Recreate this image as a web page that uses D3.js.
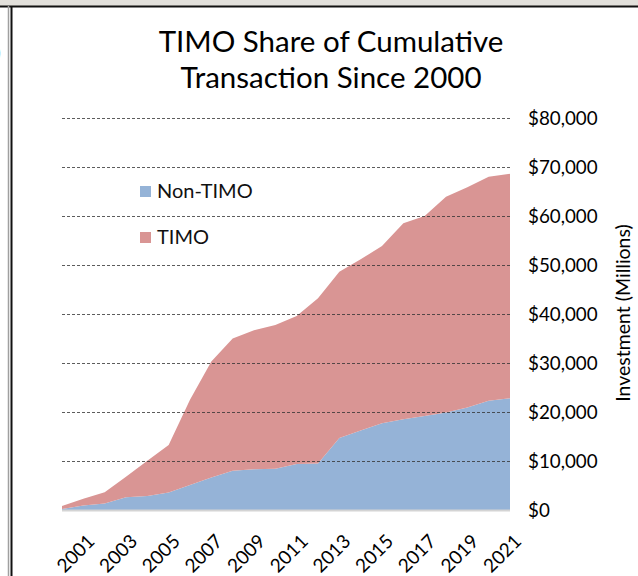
<!DOCTYPE html>
<html>
<head>
<meta charset="utf-8">
<script src="https://cdn.jsdelivr.net/npm/d3@7"></script>
<style>
  body { margin: 0; background: #fff; }
  svg { display: block; font-family: Lato, "Open Sans", sans-serif; }
</style>
</head>
<body>
<div id="chart"></div>
<script>
// Data
let years = d3.range(2000, 2022);
let nonTimo = [200, 900, 1350, 2600, 2850, 3550, 5100, 6650, 8000, 8300, 8400,
               9400, 9500, 14700, 16200, 17700, 18500, 19200, 19900, 20900, 22300, 22800];
let timo = [600, 1400, 2250, 4200, 7200, 9700, 17400, 23650, 27000, 28400, 29350,
            30200, 33700, 33900, 34950, 36200, 40000, 40800, 44050, 44950, 45700, 45800];
let yTicks = [0, 10000, 20000, 30000, 40000, 50000, 60000, 70000, 80000];
let seriesNames = ["Non-TIMO", "TIMO"];
let colors = {"Non-TIMO": "#95b3d7", "TIMO": "#d99594"};

let w = 638;
let h = 576;

let svg = d3.select("#chart")
  .append("svg")
  .attr("width", w)
  .attr("height", h);

// window frame bits around the chart
svg.append("rect").attr("x", 0).attr("y", 0).attr("width", w).attr("height", 6).attr("fill", "#e2e0db");
svg.append("line").attr("x1", 0).attr("x2", w).attr("y1", 6.5).attr("y2", 6.5).attr("stroke", "#111").attr("stroke-width", 2);
svg.append("line").attr("x1", 8.5).attr("x2", 8.5).attr("y1", 6).attr("y2", h).attr("stroke", "#a0a0a0").attr("stroke-width", 1.5);
svg.append("line").attr("x1", 11.5).attr("x2", 11.5).attr("y1", 6).attr("y2", h).attr("stroke", "#111").attr("stroke-width", 2);
svg.append("text").attr("x", -5).attr("y", 60).attr("font-size", 22).attr("fill", "#222").text(")");

// scales
let x = d3.scaleLinear().domain([2000, 2021]).range([62, 510]);
let y = d3.scaleLinear().domain([0, 80000]).range([510, 118]);

// stacked areas
let rows = years.map((yr, i) => ({year: yr, "Non-TIMO": nonTimo[i], "TIMO": timo[i]}));
let stacked = d3.stack().keys(seriesNames)(rows);

let area = d3.area()
  .x(d => x(d.data.year))
  .y0(d => y(d[0]))
  .y1(d => y(d[1]));

svg.append("g")
  .selectAll("path")
  .data(stacked)
  .join("path")
  .attr("d", area)
  .attr("fill", d => colors[d.key]);

// dashed gridlines (drawn over the areas)
svg.append("g")
  .selectAll("line")
  .data(yTicks.filter(d => d > 0))
  .join("line")
  .attr("x1", 62)
  .attr("x2", 510)
  .attr("y1", d => Math.round(y(d)) + 0.5)
  .attr("y2", d => Math.round(y(d)) + 0.5)
  .attr("stroke", "#333")
  .attr("stroke-opacity", 0.8)
  .attr("stroke-dasharray", "3,2");

// bottom axis line
svg.append("line")
  .attr("x1", 62).attr("x2", 510)
  .attr("y1", y(0) + 0.5).attr("y2", y(0) + 0.5)
  .attr("stroke", "#d4d4d4")
  .attr("stroke-width", 2);

// right y labels
let fmt = d3.format(",");
svg.append("g")
  .selectAll("text")
  .data(yTicks)
  .join("text")
  .attr("x", 528)
  .attr("y", d => y(d))
  .attr("dy", "0.35em")
  .attr("font-size", 18.8)
  .attr("fill", "#000")
  .text(d => "$" + fmt(d));

// x labels, every other year
svg.append("g")
  .selectAll("text")
  .data(years.filter(d => d % 2 == 1))
  .join("text")
  .attr("transform", d => "translate(" + (x(d) + 3) + ",533) rotate(-45)")
  .attr("dy", "0.71em")
  .attr("text-anchor", "end")
  .attr("font-size", 19)
  .attr("fill", "#000")
  .text(d => d);

// y axis title
svg.append("text")
  .attr("transform", "translate(623,313) rotate(-90)")
  .attr("dy", "0.35em")
  .attr("text-anchor", "middle")
  .attr("font-size", 19.5)
  .attr("fill", "#000")
  .text("Investment (Millions)");

// title
let title = svg.append("text")
  .attr("text-anchor", "middle")
  .attr("font-size", 29.5)
  .attr("fill", "#000");
title.append("tspan").attr("x", 331).attr("y", 52).text("TIMO Share of Cumulative");
title.append("tspan").attr("x", 331).attr("y", 88).text("Transaction Since 2000");

// legend
let legend = svg.append("g")
  .selectAll("g")
  .data(seriesNames)
  .join("g")
  .attr("transform", (d, i) => "translate(140," + (186 + i * 46) + ")");

legend.append("rect")
  .attr("width", 11)
  .attr("height", 11)
  .attr("fill", d => colors[d]);

legend.append("text")
  .attr("x", 17)
  .attr("y", 12)
  .attr("font-size", 20)
  .attr("fill", "#111")
  .text(d => d);
</script>
</body>
</html>
